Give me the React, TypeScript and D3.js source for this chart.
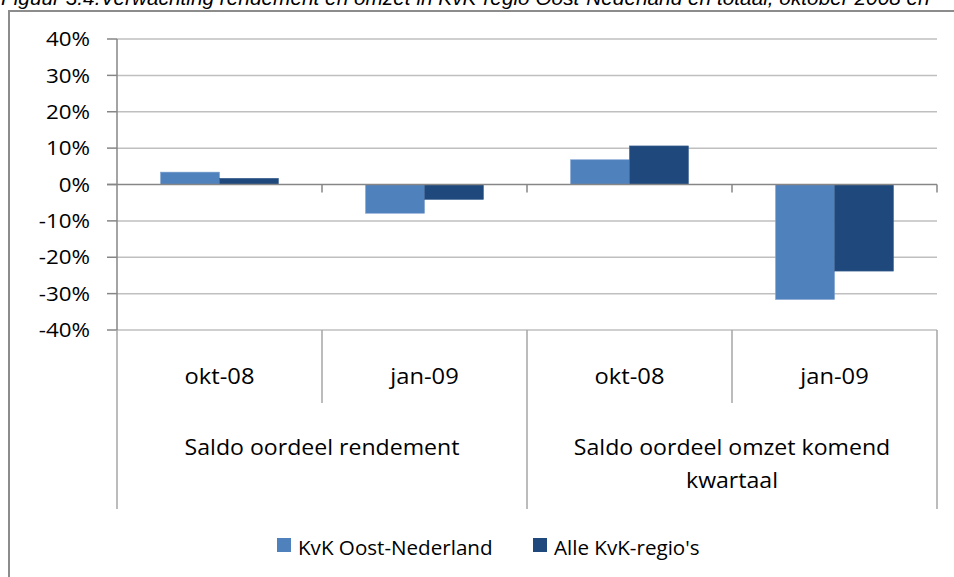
import React, { useEffect, useRef } from 'react'
import * as d3 from 'd3'

const titleText = "Figuur 3.4.Verwachting rendement en omzet in KvK-regio Oost-Nederland en totaal, oktober 2008 en"
const periods = ["okt-08", "jan-09", "okt-08", "jan-09"]
const groupLabels = [["Saldo oordeel rendement"], ["Saldo oordeel omzet komend", "kwartaal"]]
const seriesNames = ["KvK Oost-Nederland", "Alle KvK-regio's"]
const oostNederland = [0.034, -0.079, 0.068, -0.316]
const alleRegios = [0.017, -0.041, 0.106, -0.238]
const yTicks = [-0.4, -0.3, -0.2, -0.1, 0, 0.1, 0.2, 0.3, 0.4]
const colors = ["#4f81bd", "#1f497d"]

const App = () => {
    const ref = useRef(null)
    const width = 954
    const height = 577
    const font = "'Open Sans', sans-serif"

    useEffect(() => {
        document.body.style.margin = "0"
        const svg = d3.select(ref.current)
        svg.selectAll("*").remove()

        const left = 117, right = 937, top = 39, bottom = 330
        // the original picture is a bit stretched sideways, so texts are too
        const place = (x, y, sx) => `translate(${x},${y}) scale(${sx},1)`

        // title (cut off at the top of the picture) and frame
        svg.append("text")
            .attr("x", 1).attr("y", 4.5)
            .attr("font-family", "'Liberation Sans', Arial, sans-serif")
            .attr("font-style", "italic")
            .attr("font-size", 20.8)
            .attr("fill", "#000")
            .text(titleText)
        svg.append("rect")
            .attr("x", 9).attr("y", 11).attr("width", 1000).attr("height", 700)
            .attr("fill", "none").attr("stroke", "#8c8c8c").attr("stroke-width", 2)

        const y = d3.scaleLinear().domain([-0.4, 0.4]).range([bottom, top])
        const x = d3.scaleBand().domain(d3.range(periods.length)).range([left, right])
        const inner = d3.scaleBand().domain(d3.range(seriesNames.length))
            .range([0, x.bandwidth()]).paddingInner(0).paddingOuter(0.74)

        // gridlines
        svg.append("g").selectAll("line")
            .data(yTicks.filter(d => d !== 0))
            .join("line")
            .attr("x1", left).attr("x2", right)
            .attr("y1", d => y(d)).attr("y2", d => y(d))
            .attr("stroke", "#bfbfbf").attr("stroke-width", 1.5)

        // y tick marks and labels
        svg.append("g").selectAll("line")
            .data(yTicks)
            .join("line")
            .attr("x1", left - 10).attr("x2", left)
            .attr("y1", d => y(d)).attr("y2", d => y(d))
            .attr("stroke", "#868686").attr("stroke-width", 1.5)
        svg.append("g").selectAll("text")
            .data(yTicks)
            .join("text")
            .attr("transform", d => place(90, y(d), 1.12))
            .attr("dy", "0.36em")
            .attr("text-anchor", "end")
            .attr("font-family", font).attr("font-size", 20)
            .attr("fill", "#000")
            .text(d => Math.round(d * 100) + "%")

        // bars
        const seriesData = [oostNederland, alleRegios]
        seriesData.forEach((vals, s) => {
            svg.append("g").selectAll("rect")
                .data(vals)
                .join("rect")
                .attr("x", (d, i) => x(i) + inner(s))
                .attr("width", inner.bandwidth())
                .attr("y", d => y(Math.max(0, d)))
                .attr("height", d => Math.abs(y(d) - y(0)))
                .attr("fill", colors[s])
                .attr("stroke", s === 0 ? "#7c9fcf" : "#3a5f8f")
                .attr("stroke-width", 0.6)
        })

        // y axis and zero line
        svg.append("line")
            .attr("x1", left).attr("x2", left).attr("y1", top).attr("y2", bottom)
            .attr("stroke", "#868686").attr("stroke-width", 1.5)
        svg.append("line")
            .attr("x1", left - 10).attr("x2", right).attr("y1", y(0)).attr("y2", y(0))
            .attr("stroke", "#868686").attr("stroke-width", 1.5)
        svg.append("g").selectAll("line")
            .data(d3.range(1, periods.length + 1))
            .join("line")
            .attr("x1", i => x(0) + i * x.step()).attr("x2", i => x(0) + i * x.step())
            .attr("y1", y(0)).attr("y2", y(0) + 8)
            .attr("stroke", "#868686").attr("stroke-width", 1.5)

        // multi level category axis
        svg.append("g").selectAll("line")
            .data(d3.range(0, periods.length + 1))
            .join("line")
            .attr("x1", i => x(0) + i * x.step()).attr("x2", i => x(0) + i * x.step())
            .attr("y1", bottom).attr("y2", i => (i % 2 === 0 ? 509 : 403))
            .attr("stroke", "#a6a6a6").attr("stroke-width", 1.5)
        svg.append("g").selectAll("text")
            .data(periods)
            .join("text")
            .attr("transform", (d, i) => place(x(i) + x.bandwidth() / 2, 384, 1.13))
            .attr("text-anchor", "middle")
            .attr("font-family", font).attr("font-size", 21)
            .attr("fill", "#000")
            .text(d => d)
        groupLabels.forEach((lines, g) => {
            const cx = x(g * 2) + x.step()
            svg.append("g").selectAll("text")
                .data(lines)
                .join("text")
                .attr("transform", (d, i) => place(cx, 455 + i * 33, 1.1))
                .attr("text-anchor", "middle")
                .attr("font-family", font).attr("font-size", 21)
                .attr("fill", "#000")
                .text(d => d)
        })

        // legend
        const legendX = [277, 533]
        const legend = svg.append("g").selectAll("g")
            .data(seriesNames)
            .join("g")
            .attr("transform", (d, i) => `translate(${legendX[i]},538)`)
        legend.append("rect")
            .attr("width", 14).attr("height", 14)
            .attr("fill", (d, i) => colors[i])
        legend.append("text")
            .attr("transform", place(21, 17, 1.03))
            .attr("font-family", font).attr("font-size", 20)
            .attr("fill", "#000")
            .text(d => d)
    }, [])

    return (
        <svg ref={ref} width={width} height={height} style={{ display: "block", background: "#fff" }} />
    )
}

export default App
